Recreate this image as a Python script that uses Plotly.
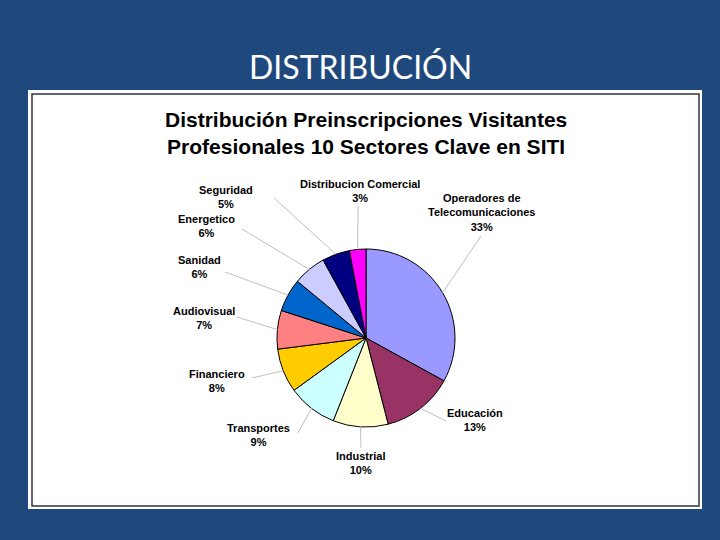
import math
import plotly.graph_objects as go

# ---- data ----
sectors = ["Operadores de<br>Telecomunicaciones", "Educación", "Industrial", "Transportes",
           "Financiero", "Audiovisual", "Sanidad", "Energetico", "Seguridad",
           "Distribucion Comercial"]
percents = [33, 13, 10, 9, 8, 7, 6, 6, 5, 3]
colors = ["#9999FF", "#993366", "#FFFFCC", "#CCFFFF", "#FFCC00", "#FF8080",
          "#0066CC", "#CCCCFF", "#000080", "#FF00FF"]

# ---- layout helpers (pixel geometry) ----
W, H = 720, 540
CX, CY, R = 366, 338, 89


def px(x):
    return x / W


def py(y):
    return 1 - y / H


# label text centres and leader-line label ends (pixels)
label_pos = [(482, 213), (475, 420), (361, 463), (258, 435), (217, 381),
             (204, 318), (199, 267), (207, 226), (226, 197), (360, 191)]
line_end = [(481, 236), (446, 421), (361, 448), (298, 433), (252, 378),
            (237, 317), (225, 272), (242, 229), (274, 198), (358, 206)]

fig = go.Figure()
fig.add_trace(go.Pie(
    labels=sectors, values=percents, sort=False, direction="clockwise", rotation=0,
    marker=dict(colors=colors, line=dict(color="#000000", width=1)),
    textinfo="none", hoverinfo="label+percent", showlegend=False,
    domain=dict(x=[px(CX - R), px(CX + R)], y=[py(CY + R), py(CY - R)]),
))

shapes = [
    dict(type="rect", xref="paper", yref="paper", x0=px(28), x1=px(702), y0=py(509), y1=py(90),
         fillcolor="white", line=dict(width=0), layer="below"),
    dict(type="rect", xref="paper", yref="paper", x0=px(32), x1=px(699), y0=py(506), y1=py(94),
         fillcolor="white", line=dict(color="#333333", width=1.5), layer="below"),
]

annotations = [
    dict(text="DISTRIBUCIÓN", x=0.5, y=py(66), xref="paper", yref="paper", showarrow=False,
         font=dict(family="Lato", size=32, color="white"), xanchor="center", yanchor="middle"),
    dict(text="<b>Distribución Preinscripciones Visitantes<br>Profesionales 10 Sectores Clave en SITI</b>",
         x=px(366), y=py(133), xref="paper", yref="paper", showarrow=False,
         font=dict(family="Liberation Sans", size=21, color="black"), xanchor="center", yanchor="middle"),
]

total = sum(percents)
cum = 0
for name, v, lp, le in zip(sectors, percents, label_pos, line_end):
    mid = (cum + v / 2) / total * 2 * math.pi
    cum += v
    ex = CX + R * math.sin(mid)
    ey = CY - R * math.cos(mid)
    shapes.append(dict(type="line", xref="paper", yref="paper", x0=px(ex), y0=py(ey),
                       x1=px(le[0]), y1=py(le[1]), line=dict(color="#C0C0C0", width=1),
                       layer="above"))
    annotations.append(dict(text=f"<b>{name}<br>{v}%</b>", x=px(lp[0]), y=py(lp[1]),
                            xref="paper", yref="paper", showarrow=False, align="center",
                            font=dict(family="Liberation Sans", size=11, color="black"),
                            xanchor="center", yanchor="middle"))

fig.update_layout(
    width=W, height=H, margin=dict(l=0, r=0, t=0, b=0),
    paper_bgcolor="#1F497D", plot_bgcolor="#1F497D",
    shapes=shapes, annotations=annotations,
)
fig.write_html("out.html", config={"displayModeBar": False},
               post_script="document.body.style.margin='0';document.body.style.background='#1F497D';")
